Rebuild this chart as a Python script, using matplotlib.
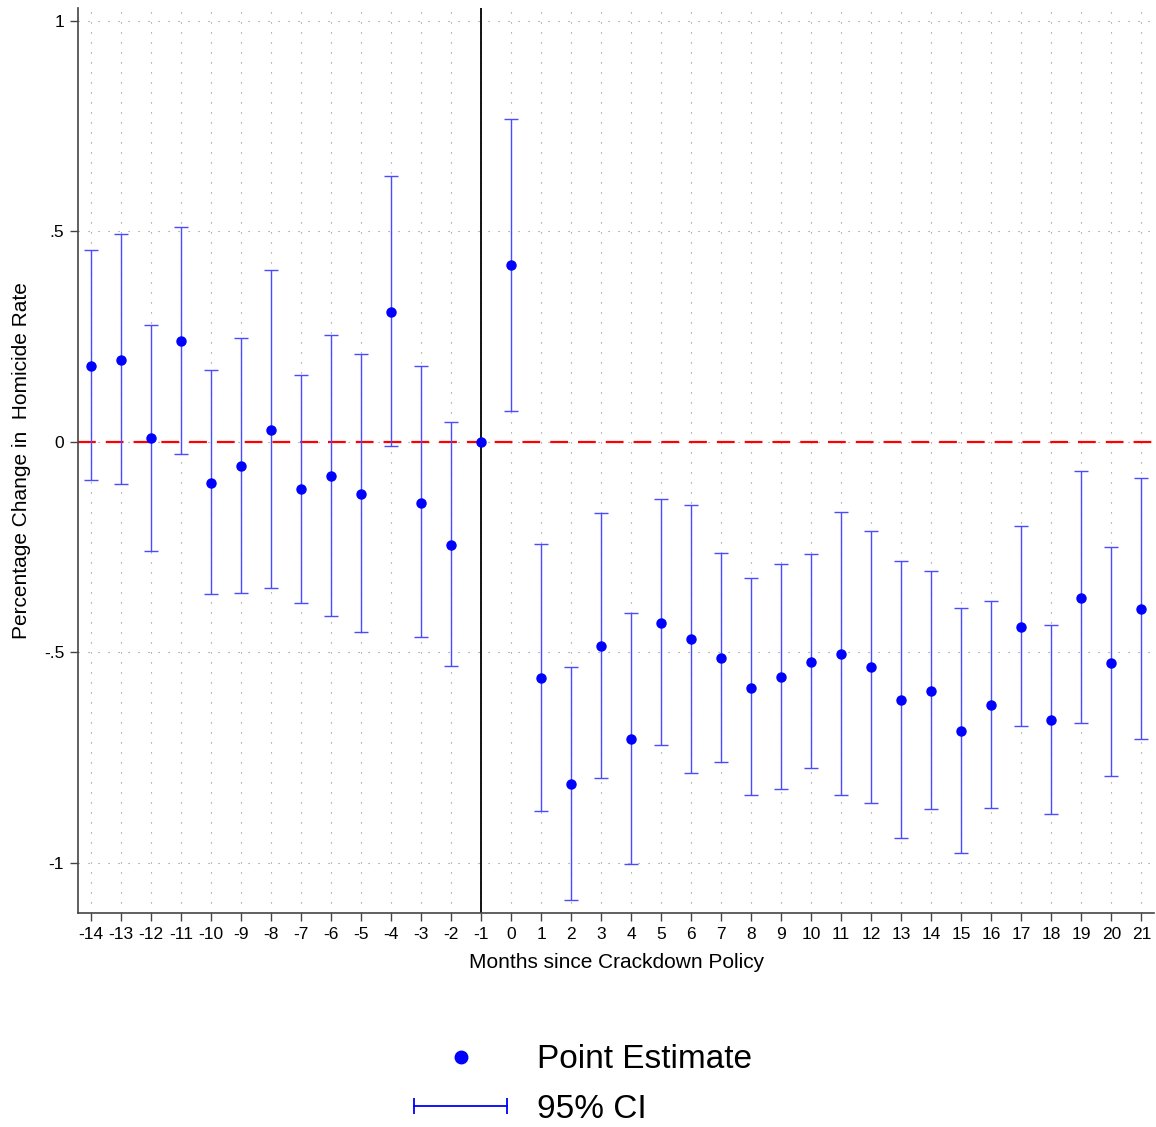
import numpy as np
import matplotlib
matplotlib.use("Agg")
import matplotlib.pyplot as plt
from matplotlib.lines import Line2D
from matplotlib.legend_handler import HandlerLine2D

plt.rcParams['font.family'] = ['Liberation Sans', 'DejaVu Sans']

# months relative to the policy
months = np.arange(-14, 22)

# point estimates
est = np.array([0.181, 0.195, 0.008, 0.239, -0.097, -0.058, 0.028, -0.113, -0.080, -0.123,
                0.308, -0.145, -0.244, 0.0, 0.419,
                -0.562, -0.814, -0.485, -0.707, -0.430, -0.469, -0.514, -0.584, -0.559, -0.523,
                -0.504, -0.536, -0.614, -0.591, -0.687, -0.625, -0.439, -0.660, -0.372, -0.525,
                -0.398])

# 95% CI bounds (month -1 is the omitted reference period)
ci_hi = np.array([0.455, 0.493, 0.277, 0.511, 0.171, 0.246, 0.409, 0.160, 0.255, 0.209,
                  0.632, 0.181, 0.046, np.nan, 0.767,
                  -0.242, -0.536, -0.168, -0.406, -0.136, -0.151, -0.263, -0.323, -0.289, -0.267,
                  -0.167, -0.211, -0.284, -0.307, -0.394, -0.377, -0.200, -0.434, -0.070, -0.250,
                  -0.086])
ci_lo = np.array([-0.091, -0.100, -0.259, -0.030, -0.362, -0.360, -0.347, -0.384, -0.413, -0.451,
                  -0.011, -0.464, -0.533, np.nan, 0.074,
                  -0.877, -1.088, -0.799, -1.003, -0.719, -0.786, -0.761, -0.840, -0.825, -0.775,
                  -0.840, -0.857, -0.942, -0.873, -0.976, -0.871, -0.675, -0.885, -0.669, -0.793,
                  -0.707])

yticks = [-1, -0.5, 0, 0.5, 1]
ytick_labels = ["-1", "-.5", "0", ".5", "1"]

fig = plt.figure(figsize=(11.56, 11.27), dpi=100)
ax = fig.add_axes([0.0675, 0.19, 0.931, 0.803])

# dotted grid
grid_kw = dict(color='#888888', lw=0.8, ls=(0, (1, 8)), zorder=0)
for m in months:
    ax.axvline(m, **grid_kw)
for t in yticks:
    ax.axhline(t, **grid_kw)

ax.axhline(0, color='red', lw=1.6, dashes=(8, 4.5), zorder=1)
ax.axvline(-1, color='black', lw=1.3, zorder=2)

ok = ~np.isnan(ci_hi)
ax.errorbar(months[ok], est[ok], yerr=[est[ok] - ci_lo[ok], ci_hi[ok] - est[ok]],
            fmt='none', ecolor='#4a4aff', elinewidth=1.0, capsize=5, capthick=1.0, zorder=3)
ax.plot(months, est, 'o', color='blue', ms=6.5, zorder=4)

ax.set_xlim(-14.43, 21.43)
ax.set_ylim(-1.119, 1.031)
ax.set_xticks(months)
ax.set_xticklabels([str(m) for m in months], fontsize=12.5)
ax.set_yticks(yticks)
ax.set_yticklabels(ytick_labels, fontsize=12.5)
ax.tick_params(direction='out', length=6, width=1, color='#444444', pad=4)
for s in ['top', 'right']:
    ax.spines[s].set_visible(False)
for s in ['left', 'bottom']:
    ax.spines[s].set_color('#444444')
    ax.spines[s].set_linewidth(1.2)

ax.set_xlabel("Months since Crackdown Policy", fontsize=15, labelpad=8)
ax.set_ylabel("Percentage Change in  Homicide Rate", fontsize=15, labelpad=9)

h_pt = Line2D([], [], marker='o', ls='none', color='blue', ms=9)
h_ci = Line2D([0, 1], [0, 0], marker='|', ms=12, mew=1.3, color='blue', lw=1.3)
fig.legend([h_pt, h_ci], ["Point Estimate", "95% CI"],
           handler_map={h_pt: HandlerLine2D(numpoints=1), h_ci: HandlerLine2D(numpoints=2)},
           loc='upper center', bbox_to_anchor=(0.5, 0.1), frameon=False, fontsize=24,
           handlelength=3.4, handletextpad=0.6, labelspacing=0.55)

fig.savefig("out.png", dpi=100)
